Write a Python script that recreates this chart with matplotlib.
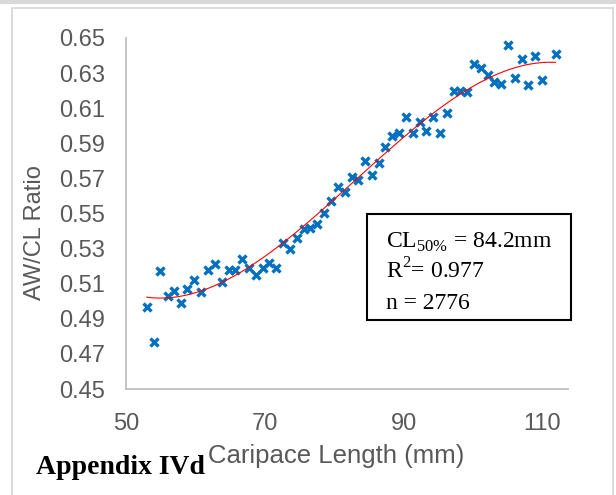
import numpy as np
import matplotlib
matplotlib.use("Agg")
import matplotlib.pyplot as plt
from matplotlib.lines import Line2D
from matplotlib.patches import Rectangle

plt.rcParams["font.family"] = ["Liberation Sans", "DejaVu Sans"]
plt.rcParams["mathtext.fontset"] = "custom"
plt.rcParams["mathtext.rm"] = "Liberation Serif"

# ---- data ----
cl = [53.0, 54.0, 54.9, 56.0, 56.9, 57.9, 58.8, 59.8, 60.8, 61.8,
      62.8, 63.8, 64.8, 65.7, 66.7, 67.7, 68.7, 69.7, 70.6, 71.6,
      72.6, 73.6, 74.6, 75.6, 76.5, 77.5, 78.5, 79.6, 80.5, 81.5,
      82.5, 83.4, 84.4, 85.4, 86.4, 87.3, 88.3, 89.3, 90.3, 91.3,
      92.3, 93.3, 94.2, 95.3, 96.2, 97.2, 98.2, 99.1, 100.1, 101.1,
      102.1, 103.1, 104.0, 105.0, 106.0, 107.0, 108.0, 109.0, 109.9, 111.9]
ratio = [0.497, 0.477, 0.517, 0.503, 0.506, 0.499, 0.507, 0.512, 0.505, 0.518,
         0.521, 0.511, 0.518, 0.518, 0.524, 0.519, 0.515, 0.519, 0.522, 0.519,
         0.533, 0.530, 0.536, 0.541, 0.542, 0.544, 0.550, 0.557, 0.565, 0.562,
         0.571, 0.569, 0.580, 0.572, 0.579, 0.588, 0.594, 0.596, 0.605, 0.596,
         0.602, 0.597, 0.605, 0.596, 0.607, 0.620, 0.620, 0.619, 0.635, 0.633,
         0.629, 0.625, 0.624, 0.646, 0.627, 0.638, 0.623, 0.640, 0.626, 0.641]
x_ticks = [50, 70, 90, 110]
y_ticks = [0.45, 0.47, 0.49, 0.51, 0.53, 0.55, 0.57, 0.59, 0.61, 0.63, 0.65]

W, H = 616, 495
fig = plt.figure(figsize=(W / 100, H / 100), dpi=100)
ax = fig.add_axes([126 / W, 1 - 389 / H, (568 - 126) / W, (389 - 38) / H])

# polynomial trendline (as in Excel)
coef = np.polyfit(cl, ratio, 3)
xf = np.linspace(min(cl), max(cl), 200)
ax.plot(xf, np.polyval(coef, xf), color="#FF0000", lw=0.8, zorder=3)
ax.plot(cl, ratio, ls="none", marker="x", ms=6, mew=2.4, color="#0070C0", zorder=2)

ax.set_xlim(50, 113.7)
ax.set_ylim(0.45, 0.65)
ax.set_xticks(x_ticks)
ax.set_yticks(y_ticks)
ax.set_yticklabels([f"{v:.2f}" for v in y_ticks])
ax.tick_params(length=0, labelsize=17, colors="#595959")
ax.tick_params(axis="x", pad=17)
ax.tick_params(axis="y", pad=15)
for s in ["top", "right"]:
    ax.spines[s].set_visible(False)
for s in ["left", "bottom"]:
    ax.spines[s].set_color("#BFBFBF")
    ax.spines[s].set_linewidth(1.3)

fig.text(35 / W, 1 - 233 / H, "AW/CL Ratio", rotation=90, ha="center", va="center",
         fontsize=17, color="#595959")
fig.text(336 / W, 1 - 456 / H, "Caripace Length (mm)", ha="center", va="center",
         fontsize=18.5, color="#595959")
fig.text(36 / W, 1 - 474 / H, "Appendix IVd", ha="left", va="baseline",
         fontsize=20, fontweight="bold", family="Liberation Serif", color="black")

# statistics box
fig.add_artist(Rectangle((367 / W, 1 - 320 / H), (571 - 367) / W, (320 - 214) / H,
                         transform=fig.transFigure, fill=False, ec="black", lw=1.5))
box_lines = [r"CL$_{\mathregular{50\%}}$ = 84.2mm", r"R$^{\mathregular{2}}$= 0.977", "n = 2776"]
for i, t in enumerate(box_lines):
    fig.text(386 / W, 1 - (248 + 30.5 * i) / H, t, ha="left", va="baseline",
             fontsize=17, family="Liberation Serif", color="black")

# outer chart frame
gray = "#D9D9D9"
fig.add_artist(Line2D([0, 1], [1 - 2 / H, 1 - 2 / H], transform=fig.transFigure, color=gray, lw=3))
fig.add_artist(Line2D([12 / W, 613 / W], [1 - 8 / H, 1 - 8 / H], transform=fig.transFigure, color=gray, lw=1.3))
fig.add_artist(Line2D([12 / W, 12 / W], [0, 1 - 8 / H], transform=fig.transFigure, color=gray, lw=1.3))
fig.add_artist(Line2D([613 / W, 613 / W], [0, 1 - 8 / H], transform=fig.transFigure, color=gray, lw=1.3))

fig.savefig("out.png", dpi=100)
